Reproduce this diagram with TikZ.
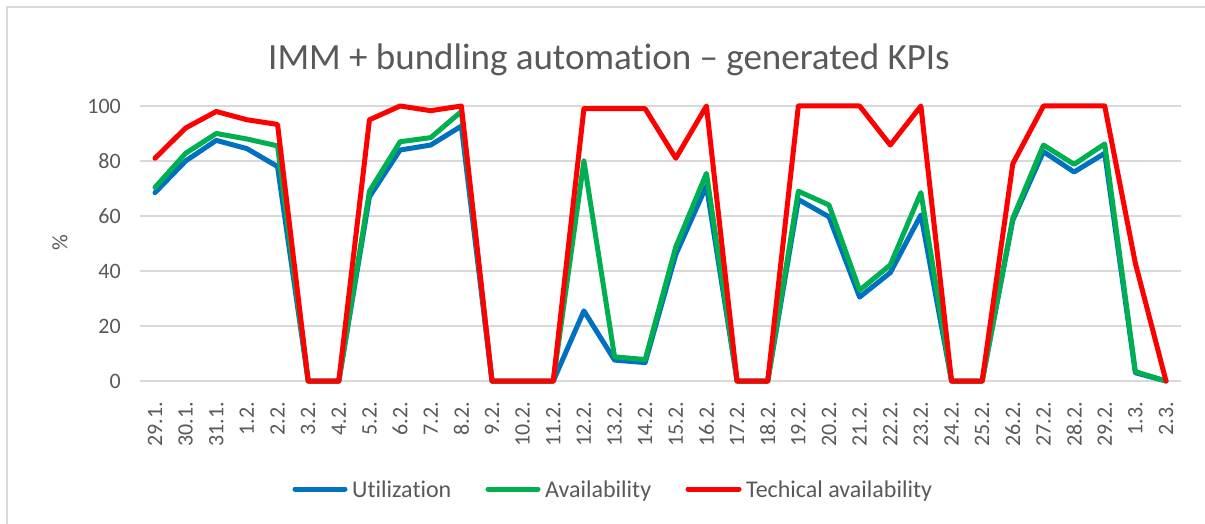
\documentclass[tikz,border=0pt]{standalone}
\usepackage{fontspec}
\setmainfont{Carlito}[Ligatures=NoCommon]
\definecolor{txt}{HTML}{595959}
\definecolor{grid}{HTML}{D9D9D9}
\definecolor{frame}{HTML}{D9D9D9}
\definecolor{cblue}{HTML}{0070C0}
\definecolor{cgreen}{HTML}{00B050}
\definecolor{cred}{HTML}{FF0000}
\tikzset{
  series/.style={line width=5pt, line join=round, line cap=round},
  gridline/.style={draw=grid, line width=1.5pt},
  ticklab/.style={text=txt, font=\fontsize{22}{22}\selectfont, inner sep=0pt},
  legtext/.style={text=txt, font=\fontsize{24}{24}\selectfont, inner sep=0pt, anchor=base west},
}
\begin{document}
\begin{tikzpicture}[x=1pt,y=1pt]
\useasboundingbox (0,0) rectangle (1205,523);
\fill[white] (0,0) rectangle (1205,523);
\draw[frame, line width=1.5pt] (7,-10) rectangle (1215,516);
% title
\node[text=txt, font=\fontsize{37}{37}\selectfont, inner sep=0pt, anchor=base] (title) at (609,453) {IMM + bundling automation -- generated KPIs};
% y axis label
\node[text=txt, font=\fontsize{22}{22}\selectfont, rotate=90, inner sep=0pt] (ylab) at (60,280) {\%};
% grid and y ticks
\foreach \v/\n in {0/y0,20/y20,40/y40,60/y60,80/y80,100/y100} {
  \draw[gridline] (139.7,{142+2.75*\v}) -- (1181.3,{142+2.75*\v});
  \node[ticklab, anchor=east] (\n) at (121,{142+2.75*\v}) {\v};
}
% x labels
\foreach \lab [count=\i from 0] in {29.1.,30.1.,31.1.,1.2.,2.2.,3.2.,4.2.,5.2.,6.2.,7.2.,8.2.,9.2.,10.2.,11.2.,12.2.,13.2.,14.2.,15.2.,16.2.,17.2.,18.2.,19.2.,20.2.,21.2.,22.2.,23.2.,24.2.,25.2.,26.2.,27.2.,28.2.,29.2.,1.3.,2.3.} {
  \node[ticklab, rotate=90, anchor=east] (x\i) at ({155+30.636*\i},121) {\lab};
}
% series
\begin{scope}[shift={(155,142)}, x=30.636pt, y=2.75pt]
\draw[series, cblue] plot coordinates {(0,68.5) (1,80) (2,87.5) (3,84.5) (4,78) (5,0) (6,0) (7,67) (8,84) (9,85.8) (10,92.7) (11,0) (12,0) (13,0) (14,25.5) (15,7.6) (16,6.7) (17,46) (18,71) (19,0) (20,0) (21,66) (22,59.7) (23,30.5) (24,39.4) (25,60.4) (26,0) (27,0) (28,58.5) (29,83.4) (30,76) (31,82.8) (32,3) (33,0)};
\draw[series, cgreen] plot coordinates {(0,70.4) (1,82.8) (2,90) (3,88) (4,85.5) (5,0) (6,0) (7,69) (8,87) (9,88.5) (10,98) (11,0) (12,0) (13,0) (14,80) (15,8.8) (16,7.8) (17,48.8) (18,75.5) (19,0) (20,0) (21,69) (22,64) (23,33) (24,42.2) (25,68.5) (26,0) (27,0) (28,59.2) (29,85.8) (30,78.8) (31,86.2) (32,3.4) (33,0)};
\draw[series, cred] plot coordinates {(0,81) (1,92) (2,98) (3,95) (4,93.3) (5,0) (6,0) (7,95) (8,100) (9,98.3) (10,100) (11,0) (12,0) (13,0) (14,99) (15,99) (16,99) (17,81) (18,100) (19,0) (20,0) (21,100) (22,100) (23,100) (24,85.8) (25,100) (26,0) (27,0) (28,79) (29,100) (30,100) (31,100) (32,42.8) (33,0)};
\end{scope}
% legend
\coordinate (lb1) at (295,34); \coordinate (lb2) at (345,34);
\coordinate (lg1) at (488,34); \coordinate (lg2) at (538,34);
\coordinate (lr1) at (688,34); \coordinate (lr2) at (739,34);
\draw[series, cblue] (lb1) -- (lb2);
\draw[series, cgreen] (lg1) -- (lg2);
\draw[series, cred] (lr1) -- (lr2);
\node[legtext] (lt1) at (352,26) {Utilization};
\node[legtext] (lt2) at (545,26) {Availability};
\node[legtext] (lt3) at (746,26) {Techical availability};
\end{tikzpicture}
\end{document}
